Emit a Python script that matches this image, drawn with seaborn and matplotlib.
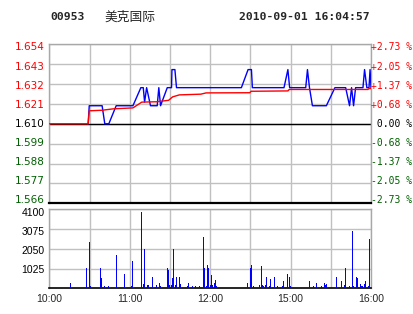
import matplotlib
matplotlib.use("Agg")
import matplotlib.pyplot as plt
import seaborn as sns
import pandas as pd

# ---------------- data ----------------
code = "00953"
name = "美克国际"
stamp = "2010-09-01 16:04:57"
prev_close = 1.610

# minutes from 10:00 (morning 10:00-12:30, afternoon 14:30-16:00 -> 0..240)
price_min = [28.5, 29, 29.8, 39.4, 41.4, 44.4, 49.9, 62.4, 68.3, 70.1, 71.1, 72.6, 75.5,
             80.5, 81.7, 83, 88, 91.2, 91.5, 93.7, 94.9, 143.3, 148.3, 150.8, 151.5,
             175.1, 178, 179.3, 191.3, 192.6, 194.1, 196.3, 206.7, 213.1, 221.1, 224,
             225.5, 227, 228.5, 234, 235.2, 236.9, 238.5, 239.3, 240]
price_val = [1.610, 1.610, 1.620, 1.620, 1.610, 1.610, 1.620, 1.620, 1.630, 1.630, 1.622,
             1.630, 1.620, 1.620, 1.630, 1.620, 1.630, 1.630, 1.640, 1.640, 1.630, 1.630,
             1.640, 1.640, 1.630, 1.630, 1.640, 1.630, 1.630, 1.640, 1.630, 1.620, 1.620,
             1.630, 1.630, 1.620, 1.630, 1.620, 1.630, 1.630, 1.640, 1.630, 1.630, 1.640,
             1.630]

avg_min = [0, 29, 29.8, 39.4, 48, 62.4, 69, 80, 89, 92, 97, 113, 117, 149.6, 150.5,
           178, 179, 237.7, 238.5, 240]
avg_val = [1.610, 1.610, 1.6172, 1.6175, 1.6183, 1.6188, 1.6220, 1.6222, 1.6230, 1.6249,
           1.6260, 1.6264, 1.6271, 1.6272, 1.6280, 1.6282, 1.6290, 1.6290, 1.6295, 1.6295]

vol_min = [16, 28, 30, 31, 38, 39, 41, 44, 50, 56, 61, 62, 69, 70, 71, 73, 74, 77, 80, 82,
           83, 88, 89, 90, 91, 92, 93, 94, 95, 96, 97, 98, 103, 104, 107, 109, 112, 115,
           116, 117, 118, 119, 120, 121, 122, 123, 124, 125, 143, 148, 150, 151, 152, 157,
           158, 159, 160, 161, 162, 164, 165, 168, 170, 174, 175, 178, 179, 180, 190, 193,
           194, 196, 197, 199, 203, 205, 206, 207, 214, 218, 220, 221, 224, 226, 227, 229,
           230, 232, 233, 234, 235, 236, 237, 238, 239]
vol_val = [277, 1055, 2405, 138, 1055, 536, 121, 121, 1730, 744, 121, 1419, 3962, 225,
           2059, 173, 173, 588, 173, 277, 121, 1055, 952, 173, 173, 536, 2059, 173, 588,
           381, 588, 208, 121, 277, 121, 121, 121, 2664, 1055, 121, 1211, 1038, 173, 692,
           173, 260, 415, 121, 121, 277, 1055, 1211, 121, 173, 1159, 173, 121, 173, 588,
           121, 484, 588, 121, 121, 381, 744, 588, 121, 173, 588, 381, 1886, 121, 277,
           121, 277, 173, 225, 588, 381, 173, 1055, 121, 2976, 121, 588, 536, 225, 121,
           121, 225, 381, 121, 121, 2560]

price_ticks = [1.566, 1.577, 1.588, 1.599, 1.610, 1.621, 1.632, 1.643, 1.654]
price_labels = ["1.566", "1.577", "1.588", "1.599", "1.610", "1.621", "1.632", "1.643", "1.654"]
pct_labels = ["-2.73 %", "-2.05 %", "-1.37 %", "-0.68 %", " 0.00 %",
              "+0.68 %", "+1.37 %", "+2.05 %", "+2.73 %"]
vol_ticks = [1025, 2050, 3075, 4100]
vol_labels = ["1025", "2050", "3075", "4100"]
time_grid = [0, 30, 60, 90, 120, 150, 180, 210, 240]
time_ticks = [0, 60, 120, 180, 240]
time_labels = ["10:00", "11:00", "12:00", "15:00", "16:00"]

# ---------------- style ----------------
sns.set_style("white")
plt.rcParams['font.family'] = ['DejaVu Sans']

RED = "#ff0000"
GREEN = "#006000"
BLUE = "#0000ff"
GRID = "#c0c0c0"
SPINE = "#a8a8a8"

W, H = 414, 314
fig = plt.figure(figsize=(W / 100, H / 100), dpi=100)
fig.patch.set_facecolor("white")

ax = fig.add_axes([49.3 / W, 1 - 203.3 / H, (371 - 49.3) / W, (203.3 - 44.3) / H])
axv = fig.add_axes([49.3 / W, 1 - 288.3 / H, (371 - 49.3) / W, (288.3 - 209.3) / H])

def col(p):
    if abs(p - prev_close) < 1e-9:
        return "black"
    return RED if p > prev_close else GREEN

# ---------------- price panel ----------------
ax.set_xlim(0, 240)
ax.set_ylim(price_ticks[0], price_ticks[-1])
for t in time_grid:
    ax.axvline(t, color=GRID, lw=1.0, zorder=0)
for p in price_ticks:
    ax.axhline(p, color=GRID, lw=1.0, zorder=0)
ax.axhline(prev_close, color="black", lw=1.0, zorder=1)

df_avg = pd.DataFrame({"m": avg_min, "v": avg_val})
df_px = pd.DataFrame({"m": price_min, "v": price_val})
sns.lineplot(data=df_px, x="m", y="v", ax=ax, color=BLUE, lw=1.0, sort=False,
             estimator=None, zorder=3)
sns.lineplot(data=df_avg, x="m", y="v", ax=ax, color=RED, lw=1.0, sort=False,
             estimator=None, zorder=4)
ax.set_xlabel("")
ax.set_ylabel("")
ax.set_xticks([])
ax.set_yticks([])
for s in ["left", "top", "right"]:
    ax.spines[s].set_color(SPINE)
    ax.spines[s].set_linewidth(1.0)
ax.spines["bottom"].set_color("black")
ax.spines["bottom"].set_linewidth(1.6)

# price labels (placed slightly inward as in the reference)
n = len(price_ticks)
for i, (p, lab, pct) in enumerate(zip(price_ticks, price_labels, pct_labels)):
    ypx = 200.0 - i * (200.0 - 47.5) / (n - 1)
    fig.text(44.5 / W, 1 - ypx / H, lab, fontsize=7.5, family="DejaVu Sans",
             color=col(p), ha="right", va="center")
    fig.text(371.5 / W, 1 - ypx / H, pct, fontsize=7, family="DejaVu Sans Mono",
             color=col(p), ha="left", va="center")

# ---------------- volume panel ----------------
axv.set_xlim(0, 240)
axv.set_ylim(0, 4100)
for t in time_grid:
    axv.axvline(t, color=GRID, lw=1.0, zorder=0)
for v in vol_ticks:
    axv.axhline(v, color=GRID, lw=1.0, zorder=0)
axv.bar(vol_min, vol_val, width=0.7, color=BLUE, linewidth=0, zorder=3)
axv.set_yticks([])
axv.set_xticks(time_ticks)
axv.set_xticklabels(time_labels, fontsize=7.5, family="Liberation Sans")
axv.tick_params(axis="both", length=0)
axv.tick_params(axis="x", pad=4)
for s in ["left", "top", "right"]:
    axv.spines[s].set_color(SPINE)
    axv.spines[s].set_linewidth(1.0)
axv.spines["bottom"].set_color("black")
axv.spines["bottom"].set_linewidth(1.2)

vol_ypx = [270.0, 250.7, 232.3, 213.3]
for lab, ypx in zip(vol_labels, vol_ypx):
    fig.text(44.5 / W, 1 - ypx / H, lab, fontsize=7.5, family="Liberation Sans",
             color="black", ha="right", va="center")

# ---------------- header ----------------
ty = 1 - 17 / H
fig.text(50 / W, ty, code, fontsize=8.2, family="DejaVu Sans Mono", weight="bold",
         ha="left", va="center")
fig.text(104 / W, ty, name, fontsize=9.2, family=["Noto Sans CJK SC", "DejaVu Sans"],
         ha="left", va="center")
fig.text(370 / W, ty, stamp, fontsize=8.2, family="DejaVu Sans Mono", weight="bold",
         ha="right", va="center")

fig.savefig("out.png", dpi=100, facecolor="white")
